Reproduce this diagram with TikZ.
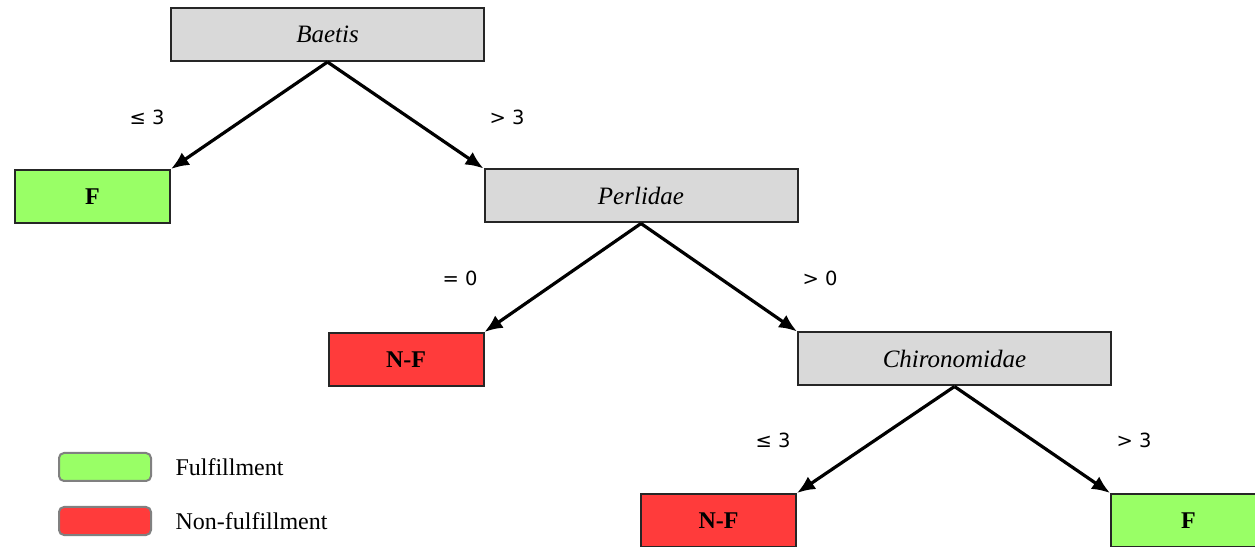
\documentclass[tikz,border=0pt]{standalone}
\usepackage{fontspec}
\setmainfont{Liberation Serif}
\newfontfamily\labelfont{DejaVu Sans}
\usetikzlibrary{arrows.meta}
\definecolor{taxgray}{HTML}{D9D9D9}
\definecolor{okgreen}{HTML}{99FF66}
\definecolor{nored}{HTML}{FF3B3B}
\begin{document}
\begin{tikzpicture}[x=1pt,y=1pt,
   taxon/.style={draw=black!85,line width=2pt,fill=taxgray,minimum width=313pt,minimum height=53pt,
      font=\fontsize{25}{29}\selectfont\itshape},
   leaf/.style={draw=black!85,line width=2pt,minimum width=155pt,minimum height=53pt,
      font=\fontsize{24}{28}\selectfont\bfseries},
   cond/.style={font=\labelfont\fontsize{19.5}{23}\selectfont},
   key/.style={draw=black!50,line width=2pt,rounded corners=5pt,minimum width=92pt,minimum height=28pt},
   keytext/.style={anchor=west,font=\fontsize{24}{28}\selectfont},
   branch/.style={line width=3.2pt,-{Latex[length=18pt,width=15pt]}}]
   \path[use as bounding box,clip] (0,0) rectangle (1255,546);

   \node[taxon] (baetis) at (327.5,511.5) {Baetis};
   \node[leaf,fill=okgreen] (f1) at (92.5,349.5) {F};
   \node[taxon] (perlidae) at (641,350) {Perlidae};
   \node[leaf,fill=nored] (nf1) at (406,186.5) {N-F};
   \node[taxon] (chiro) at (954.5,187) {Chironomidae};
   \node[leaf,fill=nored] (nf2) at (718.5,25.5) {N-F};
   \node[leaf,fill=okgreen] (f2) at (1188.5,25.5) {F};

   \draw[branch] (baetis.south) -- (f1.north east);
   \draw[branch] (baetis.south) -- (perlidae.north west);
   \draw[branch] (perlidae.south) -- (nf1.north east);
   \draw[branch] (perlidae.south) -- (chiro.north west);
   \draw[branch] (chiro.south) -- (nf2.north east);
   \draw[branch] (chiro.south) -- (f2.north west);

   \node[cond] (c1) at (147,429) {≤ 3};
   \node[cond] (c2) at (507,429) {> 3};
   \node[cond] (c3) at (460,268) {= 0};
   \node[cond] (c4) at (820,268) {> 0};
   \node[cond] (c5) at (773,106) {≤ 3};
   \node[cond] (c6) at (1134,106) {> 3};

   \node[key,fill=okgreen] (kgreen) at (105,79) {};
   \node[key,fill=nored] (kred) at (105,25) {};
   \node[keytext] (tgreen) at (172,79) {Fulfillment};
   \node[keytext] (tred) at (172,25) {Non-fulfillment};
    \end{tikzpicture}
\end{document}
